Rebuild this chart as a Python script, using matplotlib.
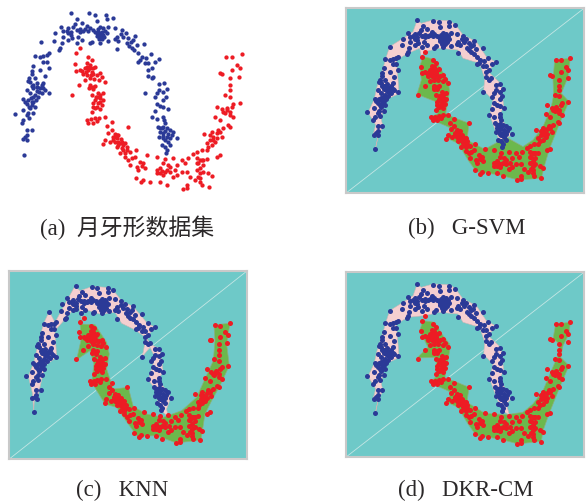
import matplotlib
matplotlib.use('Agg')
import matplotlib.pyplot as plt
from matplotlib.patches import Polygon
import numpy as np

blue_points = [(212,38),(267,40),(285,45),(290,62),(319,45),(338,53),(320,58),(232,57),(245,68),(225,72),(220,82),(183,80),(205,85),(190,93),(165,100),(212,95),(230,90),(240,88),(250,92),(262,78),(270,85),(280,90),(293,88),(300,82),(310,85),(325,80),(345,83),(365,90),(378,100),(405,107),(295,95),(305,95),(315,92),(300,105),(290,100),(310,105),(320,100),(298,112),(306,118),(325,123),(300,128),(270,130),(275,125),(245,120),(230,128),(215,115),(205,120),(190,112),(185,130),(163,122),(122,126),(180,145),(178,150),(350,110),(345,118),(355,122),(362,102),(385,115),(392,125),(400,120),(410,135),(432,132),(395,145),(402,150),(350,148),(415,160),(425,170),(452,163),(438,175),(465,185),(478,177),(415,185),(435,190),(445,210),(455,205),(445,228),(455,235),(460,230),
    (295,105),(300,98),(305,110),(312,112),(290,108),(285,95),(296,118),(240,95),(255,88),(265,92),(205,100),(212,105),(200,92),(235,110),(370,112),(380,130),(388,138),(420,180),(445,190),
    (492,250),(478,252),(500,268),(490,275),(498,290),(478,270),(470,280),(465,292),(490,300),(435,278),(470,312),(480,318),(490,322),(503,328),(465,332),(455,352),(472,358),(490,350),(492,360),(495,368),(475,380),(490,382),(500,385),(510,390),(520,395),(480,395),(490,400),(505,402),(515,405),(530,415),(478,410),(490,415),(505,425),(485,435),(495,440),(510,435),(500,450),(498,458),
    (485,385),(495,392),(480,385),(488,408),(500,412),(510,415),(495,420),
    (148,160),(140,165),(130,168),(120,170),(105,168),(130,185),(140,185),(100,198),(147,203),(120,210),(95,212),(95,222),(135,228),(88,235),(83,242),(130,248),(110,250),(95,258),(80,270),(100,265),(120,265),(130,265),(110,272),(125,280),(148,278),(90,280),(105,285),(115,290),(70,298),(85,300),(100,305),(80,312),(95,315),(105,320),(68,330),(90,325),(85,340),(100,340),(45,343),(80,345),(70,360),(88,355),(65,370),(80,390),(95,390),(80,405),(75,412),(68,418),(82,420),(72,465),
    (110,260),(118,275),(100,290),(92,295),(108,300),(95,305),(75,305),(88,320),(100,255),(105,235),(90,245),(125,255),(112,262),(135,270)]

red_points = [(240,145),(228,160),(225,193),(265,172),(275,180),(262,190),(270,195),(285,200),(228,212),(240,210),(255,205),(265,210),(275,215),(250,222),(262,225),(280,222),(290,225),(300,220),(270,235),(283,238),(255,240),(305,232),(315,245),(298,240),(238,255),(270,255),(285,258),(268,265),(280,268),(215,285),(295,278),(310,280),(275,285),(288,290),(300,295),(310,300),(280,310),(295,310),(305,315),(285,325),(300,328),(275,335),(260,360),(272,358),(285,355),(298,353),(315,352),(265,370),(278,368),(292,362),
    (270,205),(258,215),(272,225),(245,213),(262,200),(280,205),(290,290),(300,285),(285,300),(292,320),(280,320),(300,305),(270,262),(278,260),
    (335,365),(322,378),(385,380),(335,390),(325,400),(345,402),(355,405),(340,412),(350,415),(362,418),(315,420),(330,425),(345,425),(360,430),(375,428),(310,432),(380,440),(350,440),(365,445),(408,450),(360,460),(375,460),(390,455),(405,470),(375,472),(385,480),(395,475),(440,465),(470,470),(420,485),(430,490),(390,495),(410,500),(425,498),(415,510),(435,505),
    (345,410),(355,425),(365,425),(340,420),(370,435),(380,450),(355,435),(350,405),(370,450),
    (495,478),(520,475),(490,490),(505,495),(480,505),(470,510),(485,512),(500,510),(470,520),(490,525),(510,515),(530,495),(545,480),(555,490),(525,510),(545,515),(560,515),(565,475),(580,462),(590,455),(605,450),(620,450),(590,475),(605,480),(620,478),(650,470),(660,465),(595,490),(610,495),(590,510),(600,520),(610,515),(570,530),(585,540),(600,545),(635,528),(625,520),(408,535),(430,540),(450,545),(422,547),(480,545),(500,555),(560,555),(548,567),(560,565),(605,555),(628,560),(520,530),(530,525),
    (590,490),(600,480),(610,480),(600,505),(480,520),(495,515),(510,500),(595,530),(600,535),
    (635,435),(620,430),(630,420),(645,425),(640,410),(650,400),(665,410),(655,390),(670,385),(685,375),(690,380),(612,403),(635,395),(645,350),(660,360),(700,352),(675,340),(690,335),(665,328),(680,325),(650,320),(695,320),(720,308),(700,312),(675,285),(690,290),(690,270),(690,255),(690,235),(718,230),(665,222),(695,210),(712,195),(720,205),(660,220),(678,170),(695,172),(727,163),
    (640,420),(650,415),(630,405),(660,395),(625,440),(680,330),(670,335),(690,345)]

# Entscheidungsflaechen der drei Verfahren
pink_b = [(247,447),(255,410),(240,405),(248,375),(225,337),(243,300),(252,260),(270,205),(280,170),(290,140),(330,115),(360,95),(372,62),(385,70),(420,60),(470,62),(488,75),(510,105),(550,125),(580,170),(610,187),(585,215),(625,252),(632,320),(620,345),(655,405),(640,415),(630,445),(612,405),(590,345),(600,300),(572,272),(575,235),(560,190),(510,175),(495,150),(440,145),(395,155),(385,170),(380,145),(345,160),(310,180),(318,275),(310,285),(275,300),(265,360),(270,380),(255,410)]
green_b = [(390,170),(425,178),(445,210),(465,240),(470,275),(458,340),(480,352),(528,370),(522,420),(575,448),(640,412),(690,440),(720,420),(750,380),(775,320),(782,285),(780,240),(785,180),(832,175),(825,232),(805,280),(828,305),(800,370),(770,445),(755,495),(745,535),(675,540),(620,525),(550,515),(525,480),(495,430),(462,415),(475,385),(430,365),(412,352),(435,340),(428,305),(372,283),(385,240),(380,200)]

pink_c = [(101,475),(98,420),(85,367),(100,330),(115,270),(130,210),(148,172),(165,205),(195,150),(225,96),(240,110),(278,97),(322,100),(345,115),(365,140),(400,158),(440,205),(465,220),(440,250),(450,270),(480,285),(490,355),(475,375),(513,430),(500,465),(505,490),(480,465),(462,400),(445,378),(465,310),(450,280),(427,308),(438,250),(400,225),(365,208),(345,175),(300,180),(250,165),(245,195),(235,150),(200,190),(165,230),(170,310),(135,335),(120,400),(115,425),(103,440)]
green_c = [(240,210),(285,212),(320,265),(328,300),(320,345),(340,405),(385,400),(400,458),(440,480),(490,490),(545,470),(590,430),(615,375),(640,320),(645,260),(642,212),(690,208),(680,270),(688,335),(660,395),(635,440),(615,480),(603,558),(530,567),(470,545),(412,547),(385,510),(350,460),(315,450),(275,385),(282,330),(270,290),(230,317),(245,250)]

pink_d = [(247,477),(255,440),(240,435),(248,405),(225,367),(243,330),(252,290),(270,235),(280,200),(290,170),(330,145),(360,125),(372,92),(385,100),(420,90),(470,92),(488,105),(510,135),(550,155),(580,200),(610,217),(585,245),(625,282),(632,350),(620,375),(655,435),(640,450),(650,485),(630,470),(612,435),(590,375),(600,330),(572,302),(575,265),(560,220),(510,205),(495,180),(440,175),(395,185),(345,190),(310,210),(318,305),(310,315),(275,330),(265,390),(270,410),(255,440)]
green_d = [(390,200),(425,205),(450,245),(470,270),(470,290),(455,375),(480,380),(528,400),(522,445),(575,478),(640,482),(690,475),(720,450),(750,410),(775,350),(795,305),(800,270),(780,255),(788,210),(832,205),(828,240),(810,275),(803,310),(828,335),(800,400),(770,475),(750,530),(745,562),(675,570),(620,555),(550,545),(525,510),(495,460),(462,445),(475,415),(430,395),(415,382),(432,365),(428,310),(372,312),(405,280),(380,230)]

captions = ['(a)  月牙形数据集', '(b)   G-SVM', '(c)   KNN', '(d)   DKR-CM']

BLUE = '#2b3a97'
RED = '#ed1c24'
W, H = 586, 504

plt.rcParams['font.family'] = ['Liberation Serif', 'Noto Sans CJK SC']
fig = plt.figure(figsize=(W / 100, H / 100), dpi=100)


def pixel_axes(left, top, right, bottom):
    return fig.add_axes([left / W, 1 - bottom / H, (right - left) / W, (bottom - top) / H])


def draw_panel(box, lims, pink, green, map_x, map_y):
    ax = pixel_axes(*box)
    ax.set_facecolor('#6ec9c8')
    ax.set_xlim(lims[0], lims[1])
    ax.set_ylim(lims[3], lims[2])
    ax.set_xticks([])
    ax.set_yticks([])
    for spine in ax.spines.values():
        spine.set_color('#c9c9c9')
        spine.set_linewidth(1.5)
    # helle Diagonale des Hintergrunds
    ax.plot([0, 1], [0, 1], transform=ax.transAxes, color='#c4e6e4', linewidth=0.6, zorder=1)
    ax.add_patch(Polygon(pink, facecolor='#f5cfd0', edgecolor='#c9b5b5', linewidth=0.4, zorder=2))
    ax.add_patch(Polygon(green, facecolor='#6cb84c', edgecolor='#8fae7c', linewidth=0.5, zorder=2))
    b = np.array(blue_points)
    r = np.array(red_points)
    ax.scatter(map_x(b[:, 0]), map_y(b[:, 1]), s=13, color=BLUE, linewidths=0, zorder=3)
    ax.scatter(map_x(r[:, 0]), map_y(r[:, 1]), s=13, color=RED, linewidths=0, zorder=4)
    return ax


# Panel (a) ohne Rahmen
ax_a = pixel_axes(0, 0, 293, 200)
ax_a.set_xlim(0, 879)
ax_a.set_ylim(600, 0)
ax_a.axis('off')
ba = np.array(blue_points)
ra = np.array(red_points)
ax_a.scatter(ba[:, 0], ba[:, 1], s=9.5, color=BLUE, linewidths=0)
ax_a.scatter(ra[:, 0], ra[:, 1], s=9.5, color=RED, linewidths=0)

draw_panel((345.7, 8.3, 584, 193.3), (158, 873, 25, 580), pink_b, green_b,
           lambda x: 247 + 0.893 * (x - 72), lambda y: 447 + 0.906 * (y - 465))
draw_panel((9.3, 270.7, 247.3, 459), (28, 742, 50, 615), pink_c, green_c,
           lambda x: 101 + 0.899 * (x - 72), lambda y: 475 + 0.888 * (y - 465))
draw_panel((345.7, 272.3, 584, 457.3), (158, 873, 55, 610), pink_d, green_d,
           lambda x: 247 + 0.893 * (x - 72), lambda y: 477 + 0.906 * (y - 465))

caption_pos = [(127, 228), (467, 228), (122, 490), (466, 490)]
for text, (cx, cy) in zip(captions, caption_pos):
    fig.text(cx / W, 1 - cy / H, text, ha='center', va='center', fontsize=16.5, color='#2b2829')

fig.savefig('out.png', dpi=100)
